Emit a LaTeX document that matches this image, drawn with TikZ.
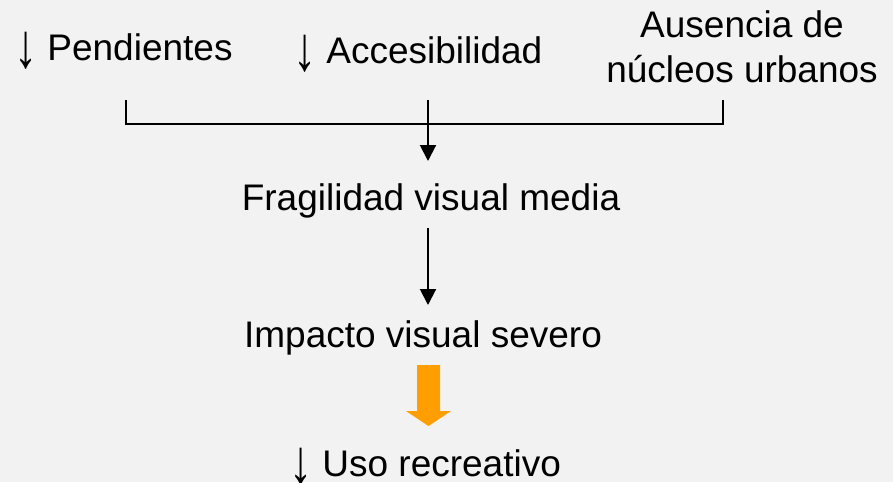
\documentclass[tikz,border=0pt]{standalone}
\usepackage{fontspec}
\usepackage{graphicx}
\setmainfont{Liberation Sans}
\usetikzlibrary{arrows.meta}
\definecolor{bg}{HTML}{F2F2F2}
\definecolor{orangearr}{RGB}{255,158,0}
\newcommand\darr{\raisebox{-7pt}{\scalebox{1.25}[1.7]{↓}}}
\begin{document}
\begin{tikzpicture}[x=1pt,y=-1pt,
  lbl/.style={inner sep=0pt,outer sep=0pt,font=\fontsize{37}{45}\selectfont,text=black},
  conn/.style={line width=2pt,draw=black},
  arr/.style={conn,-{Triangle[width=16pt,length=16pt]}}]
\fill[bg] (0,0) rectangle (893,482);
\useasboundingbox (0,0) rectangle (893,482);
% texts
\node[lbl,anchor=base west] (pend) at (14,60) {\darr\ Pendientes};
\node[lbl,anchor=base west] (acc) at (293,63) {\darr\ Accesibilidad};
\node[lbl,anchor=base,align=center] (aus) at (742,82) {Ausencia de\\núcleos urbanos};
\node[lbl,anchor=base] (frag) at (431,210) {Fragilidad visual media};
\node[lbl,anchor=base] (imp) at (423,347) {Impacto visual severo};
\node[lbl,anchor=base west] (uso) at (289,476) {\darr\ Uso recreativo};
% bracket
\coordinate (bl) at (126,100);
\coordinate (blc) at (126,124);
\coordinate (br) at (723,100);
\coordinate (brc) at (723,124);
\coordinate (mt) at (428,100);
\coordinate (mb) at (428,161);
\draw[conn,line join=miter] (bl) -- (blc) -- (brc) -- (br);
\draw[arr] (mt) -- (mb);
% second arrow
\coordinate (a2t) at (428,228);
\coordinate (a2b) at (428,305);
\draw[arr] (a2t) -- (a2b);
% orange block arrow
\fill[orangearr] (417,365) -- (440,365) -- (440,411) -- (451,411) -- (428.5,426) -- (406,411) -- (417,411) -- cycle;
\end{tikzpicture}
\end{document}
